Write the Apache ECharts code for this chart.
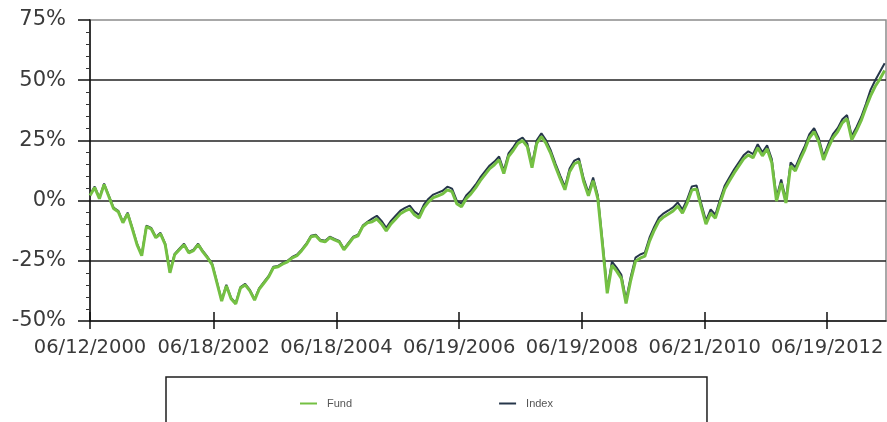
<!DOCTYPE html>
<html>
<head>
<meta charset="utf-8">
<script src="https://cdn.jsdelivr.net/npm/echarts@6/dist/echarts.min.js"></script>
<style>html,body{margin:0;padding:0;background:#fff}#c{width:887px;height:422px}</style>
</head>
<body>
<div id="c"></div>
<script>
// Sampling: one observation every 28 days starting 06/12/2000
const START_DATE = Date.UTC(2000, 5, 12);
const STEP_DAYS = 28;
const AXIS_END = Date.UTC(2013, 5, 4);

const tickLabels = ['06/12/2000','06/18/2002','06/18/2004','06/19/2006','06/19/2008','06/21/2010','06/19/2012'];
const yTicks = [-50, -25, 0, 25, 50, 75];
const seriesNames = ['Fund', 'Index'];

const fund = [
2.1, 5.4, 0.8, 6.7, 1.7, -3.3, -4.6, -9.2, -5.4, -11.7,
-18.3, -22.9, -10.8, -11.7, -15.4, -13.8, -18.3, -30.0, -22.5, -20.4,
-18.3, -21.7, -20.8, -18.3, -21.3, -23.8, -26.7, -34.2, -41.7, -35.4,
-40.8, -42.9, -36.3, -35.0, -37.5, -41.3, -36.7, -34.2, -31.7, -27.9,
-27.5, -26.3, -25.4, -23.8, -22.9, -20.8, -18.3, -15.0, -14.6, -16.7,
-17.1, -15.4, -16.3, -17.1, -20.4, -17.9, -15.4, -14.6, -10.8, -9.2,
-8.8, -7.6, -9.7, -12.6, -9.7, -7.6, -5.5, -4.3, -3.4, -5.9,
-7.2, -3.0, -0.5, 1.2, 2.0, 2.8, 4.5, 3.7, -1.3, -2.6,
0.8, 2.8, 5.3, 8.3, 10.8, 13.3, 14.9, 17.0, 11.2, 18.3,
20.8, 23.7, 24.9, 22.4, 13.7, 23.7, 26.6, 23.7, 19.5, 14.1,
9.1, 4.5, 12.0, 15.3, 16.2, 7.8, 2.0, 8.3, 0.8, -18.5,
-38.5, -26.8, -29.3, -32.3, -42.7, -33.1, -25.2, -23.9, -23.1, -16.8,
-12.3, -8.5, -6.8, -5.6, -4.3, -2.3, -5.2, -1.0, 4.4, 4.8,
-2.7, -9.8, -5.2, -7.3, -1.0, 4.8, 8.2, 11.5, 14.4, 17.3,
19.0, 17.8, 21.9, 18.6, 21.5, 15.7, -0.2, 7.3, -1.0, 14.4,
12.3, 16.9, 21.1, 26.1, 28.6, 24.4, 16.9, 21.9, 26.1, 28.6,
32.3, 34.0, 25.3, 29.0, 33.2, 38.6, 43.5, 47.5, 50.5, 54.0
];

const index = [
2.5, 5.8, 1.2, 7.1, 2.1, -2.9, -4.2, -8.8, -5.0, -11.3,
-17.9, -22.5, -10.4, -11.3, -15.0, -13.4, -17.9, -29.6, -22.1, -20.0,
-17.9, -21.3, -20.4, -17.9, -20.9, -23.4, -26.3, -33.8, -41.3, -35.0,
-40.4, -42.5, -35.9, -34.6, -37.1, -40.9, -36.3, -33.8, -31.3, -27.5,
-27.1, -25.9, -25.0, -23.4, -22.5, -20.4, -17.9, -14.6, -14.2, -16.3,
-16.7, -15.0, -15.9, -16.7, -20.0, -17.5, -15.0, -14.2, -10.4, -8.8,
-7.5, -6.3, -8.4, -11.3, -8.4, -6.3, -4.2, -3.0, -2.1, -4.6,
-5.9, -1.7, 0.8, 2.5, 3.3, 4.1, 5.8, 5.0, 0.0, -1.3,
2.1, 4.1, 6.6, 9.6, 12.1, 14.6, 16.2, 18.3, 12.5, 19.6,
22.1, 25.0, 26.2, 23.7, 15.0, 25.0, 27.9, 25.0, 20.8, 15.4,
10.4, 5.8, 13.3, 16.6, 17.5, 9.1, 3.3, 9.6, 2.1, -17.0,
-37.0, -25.3, -27.8, -30.8, -41.2, -31.6, -23.7, -22.4, -21.6, -15.3,
-10.8, -7.0, -5.3, -4.1, -2.8, -0.8, -3.7, 0.5, 5.9, 6.3,
-1.2, -8.3, -3.7, -5.8, 0.5, 6.3, 9.7, 13.0, 15.9, 18.8,
20.5, 19.3, 23.4, 20.1, 23.0, 17.2, 1.3, 8.8, 0.5, 15.9,
13.8, 18.4, 22.6, 27.6, 30.1, 25.9, 18.4, 23.4, 27.6, 30.1,
33.8, 35.5, 26.8, 30.5, 34.7, 40.1, 46.0, 50.0, 53.5, 57.0
];

const dates = fund.map((_, i) => START_DATE + i * STEP_DAYS * 86400000);

function parseMDY(s) {
  const p = s.split('/');
  return Date.UTC(+p[2], +p[0] - 1, +p[1]);
}
const tickValues = tickLabels.map(parseMDY);
function pad(n) { return (n < 10 ? '0' : '') + n; }
function fmt(v) {
  const d = new Date(v);
  return pad(d.getUTCMonth() + 1) + '/' + pad(d.getUTCDate()) + '/' + d.getUTCFullYear();
}

const chart = echarts.init(document.getElementById('c'), null, {renderer: 'canvas'});
const labelFont = 'DejaVu Sans';
chart.setOption({
  animation: false,
  backgroundColor: '#ffffff',
  grid: {
    left: 90, right: 1, top: 20, bottom: 101,
    show: true, borderColor: '#8c8c8c', borderWidth: 1.5, backgroundColor: 'transparent'
  },
  legend: {
    data: seriesNames,
    left: 166, top: 377,
    padding: [21, 154, 30, 134],
    itemGap: 147,
    itemWidth: 17, itemHeight: 2,
    icon: 'rect',
    borderColor: '#1e1e1e', borderWidth: 1.5,
    textStyle: {fontSize: 11, color: '#555', fontFamily: 'Liberation Sans', padding: [0, 0, 0, 5]}
  },
  xAxis: [{
    type: 'value',
    min: START_DATE, max: AXIS_END,
    axisLine: {show: true, onZero: false, lineStyle: {color: '#111', width: 1.5}},
    axisTick: {show: true, inside: true, length: 9, customValues: tickValues, lineStyle: {color: '#111', width: 1.5}},
    axisLabel: {show: true, customValues: tickValues, formatter: fmt, fontSize: 19.5, fontFamily: labelFont, color: '#3a3a3a', margin: 17, hideOverlap: false, showMinLabel: true, showMaxLabel: true},
    splitLine: {show: false}
  }, {
    type: 'value',
    position: 'bottom',
    min: START_DATE, max: AXIS_END,
    axisLine: {show: false, onZero: false},
    axisTick: {show: true, inside: false, length: 8, customValues: tickValues, lineStyle: {color: '#111', width: 1.5}},
    axisLabel: {show: false},
    splitLine: {show: false}
  }],
  yAxis: {
    type: 'value',
    min: -50, max: 75, interval: 25,
    axisLine: {show: true, lineStyle: {color: '#111', width: 1.5}},
    axisTick: {show: true, length: 12, lineStyle: {color: '#111', width: 1.5}},
    minorTick: {show: true, splitNumber: 5, length: 4, lineStyle: {color: '#333', width: 1}},
    axisLabel: {formatter: v => v + '%', fontSize: 21, fontFamily: labelFont, color: '#3a3a3a', margin: 24},
    splitLine: {show: true, showMaxLine: false, showMinLine: false, lineStyle: {color: '#222', width: 1.5}}
  },
  series: [{
    name: 'Index', type: 'line', xAxisIndex: 0,
    data: dates.map((d, i) => [d, index[i]]),
    symbol: 'none', z: 2,
    itemStyle: {color: '#26364a'},
    lineStyle: {color: '#26364a', width: 2}
  }, {
    name: 'Fund', type: 'line', xAxisIndex: 0,
    data: dates.map((d, i) => [d, fund[i]]),
    symbol: 'none', z: 3,
    itemStyle: {color: '#74c043'},
    lineStyle: {color: '#74c043', width: 3}
  }]
});
</script>
</body>
</html>
